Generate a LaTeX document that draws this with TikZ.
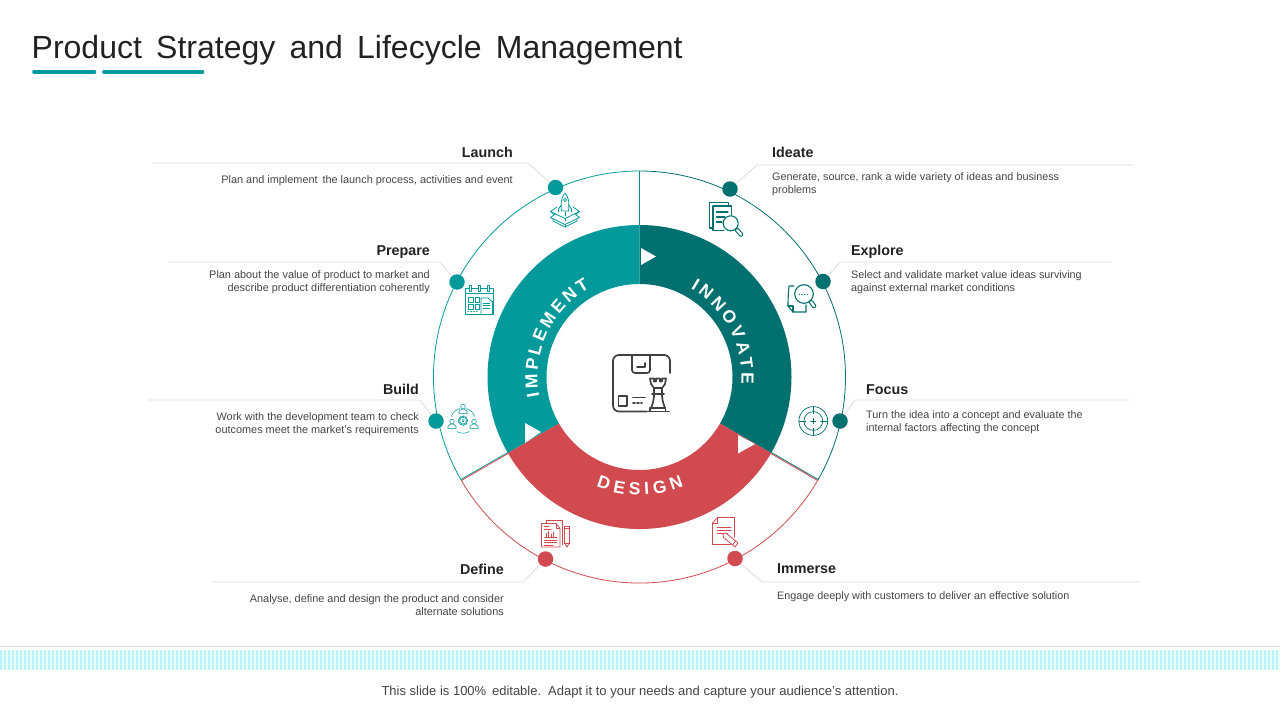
\documentclass[tikz,border=0pt]{standalone}
\usepackage{fontspec}
\setmainfont{Liberation Sans}
\usetikzlibrary{decorations.text}
\definecolor{teal1}{HTML}{049A9C}
\definecolor{teal2}{HTML}{02706F}
\definecolor{red1}{HTML}{D04A50}
\definecolor{leader}{HTML}{D9D9D9}
\definecolor{ink}{HTML}{222222}
\definecolor{body}{HTML}{444444}
\definecolor{icon}{HTML}{404040}
\definecolor{stripeA}{HTML}{B9F5F7}
\definecolor{stripeB}{HTML}{E8FCFC}
\newcommand{\ringfont}{\bfseries\fontsize{17.5}{17.5}\selectfont}
\tikzset{
  x=1pt,y=-1pt,
  dotnode/.style={circle,inner sep=0pt,minimum size=15.5pt,fill=#1},
  leaderline/.style={draw=leader,line width=0.7pt},
  headL/.style={font=\bfseries\fontsize{14.3}{15}\selectfont,text=ink,anchor=base east,inner sep=0pt},
  headR/.style={font=\bfseries\fontsize{14.3}{15}\selectfont,text=ink,anchor=base west,inner sep=0pt},
  descL/.style={font=\fontsize{10.9}{13}\selectfont,text=body,anchor=north east,align=right,inner sep=0pt},
  descR/.style={font=\fontsize{10.8}{13}\selectfont,text=body,anchor=north west,align=left,inner sep=0pt},
  ic/.style={line width=0.8pt,draw=#1,line join=round,line cap=round},
  tri/.style={fill=white,draw=none},
}
\begin{document}
\begin{tikzpicture}
\useasboundingbox (0,0) rectangle (1280,720);
% title
\node[font=\fontsize{32}{36}\selectfont,text=ink,anchor=base west,inner sep=0pt] (title) at (31.5,58.5) {Product\, Strategy\, and\, Lifecycle\, Management};
\draw[teal1,line width=3.6pt,line cap=round] (34,72) -- (94.5,72);
\draw[teal1,line width=3.6pt,line cap=round] (104,72) -- (202.5,72);
% footer band
\draw[leader,line width=1pt] (0,646.5) -- (1280,646.5);
\fill[stripeB] (0,650) rectangle (1280,670);
\foreach \k in {0,...,319} {\fill[stripeA] ({\k*4},650) rectangle ({\k*4+2.4},670);}
\node[font=\fontsize{13}{14}\selectfont,text=body,anchor=base,inner sep=0pt] (foot) at (640,695.5) {This slide is 100\%\, editable.\, Adapt it to your needs and capture your audience's attention.};
% ring
\begin{scope}[shift={(639.5,377)},y=1pt]
\fill[teal1] (90:152pt) arc[start angle=90,end angle=210,radius=152pt] -- (210:93pt) arc[start angle=210,end angle=90,radius=93pt] -- cycle;
\fill[teal2] (90:152pt) arc[start angle=90,end angle=-30,radius=152pt] -- (-30:93pt) arc[start angle=-30,end angle=90,radius=93pt] -- cycle;
\fill[red1] (210:152pt) arc[start angle=210,end angle=330,radius=152pt] -- (330:93pt) arc[start angle=330,end angle=210,radius=93pt] -- cycle;
\draw[teal1,line width=0.8pt] (90:206pt) arc[start angle=90,end angle=210,radius=206pt];
\draw[teal2,line width=0.8pt] (90:206pt) arc[start angle=90,end angle=-30,radius=206pt];
\draw[red1,line width=0.8pt] (210:206pt) arc[start angle=210,end angle=330,radius=206pt];
\draw[teal1!60!teal2,line width=0.9pt] (90:152pt) -- (90:206pt);
\draw[teal1,line width=0.8pt,transform canvas={shift={(0pt,0.6pt)}}] (210:152pt) -- (210:206pt);
\draw[red1,line width=0.8pt,transform canvas={shift={(0.3pt,-0.5pt)}}] (210:152pt) -- (210:206pt);
\draw[teal2,line width=0.8pt,transform canvas={shift={(0pt,0.6pt)}}] (330:152pt) -- (330:206pt);
\draw[red1,line width=0.8pt,transform canvas={shift={(-0.3pt,-0.5pt)}}] (330:152pt) -- (330:206pt);
% ring labels
\path[decorate,decoration={text along path,text={|\ringfont\color{white}|IMPLEMENT},text align={fit to path}}] (191:102pt) arc[start angle=191,end angle=119,radius=102pt];
\path[decorate,decoration={text along path,text={|\ringfont\color{white}|INNOVATE},text align={fit to path}}] (60:102pt) arc[start angle=60,end angle=-4,radius=102pt];
\path[decorate,decoration={text along path,text={|\ringfont\color{white}|DESIGN},text align={fit to path}}] (248.5:118pt) arc[start angle=248.5,end angle=292,radius=118pt];
\end{scope}
\fill[tri] (641,248) -- (656,256.5) -- (641,265) -- cycle;
\fill[tri] (525,423) -- (541,432) -- (525,443) -- cycle;
\fill[tri] (738,435) -- (755,444) -- (738,453.5) -- cycle;
% leaders
\coordinate (c1) at (528,163); \coordinate (e1) at (152,163);
\coordinate (c2) at (440,262); \coordinate (e2) at (168,262);
\coordinate (c3) at (420,400); \coordinate (e3) at (147,400);
\coordinate (c4) at (523,582); \coordinate (e4) at (212,582);
\coordinate (c5) at (757,165); \coordinate (e5) at (1134,165);
\coordinate (c6) at (840,262); \coordinate (e6) at (1112,262);
\coordinate (c7) at (855,400); \coordinate (e7) at (1129,400);
\coordinate (c8) at (762,582); \coordinate (e8) at (1139,582);
\node[dotnode=teal1] (d1) at (555.5,187.5) {};
\node[dotnode=teal1] (d2) at (457,282) {};
\node[dotnode=teal1] (d3) at (436,421) {};
\node[dotnode=red1] (d4) at (545.5,559) {};
\node[dotnode=teal2] (d5) at (730,189) {};
\node[dotnode=teal2] (d6) at (823,281.5) {};
\node[dotnode=teal2] (d7) at (840,421) {};
\node[dotnode=red1] (d8) at (735,558.5) {};
\foreach \i in {1,...,8} {\draw[leaderline] (d\i) -- (c\i) -- (e\i);}
% texts
\node[headL] (h1) at (513,157) {Launch};
\node[descL] (t1) at (513,175.5) {Plan and implement\, the launch process, activities and event};
\node[headL] (h2) at (430,255) {Prepare};
\node[descL] (t2) at (430,270.5) {Plan about the value of product to market and\\describe product differentiation coherently};
\node[headL] (h3) at (419,394) {Build};
\node[descL] (t3) at (419,412.5) {Work with the development team to check\\outcomes meet the market's requirements};
\node[headL] (h4) at (504,574) {Define};
\node[descL] (t4) at (504,594.5) {Analyse, define and design the product and consider\\alternate solutions};
\node[headR] (h5) at (772,157) {Ideate};
\node[descR] (t5) at (772,172.5) {Generate, source, rank a wide variety of ideas and business\\problems};
\node[headR] (h6) at (851,255) {Explore};
\node[descR] (t6) at (851,270.5) {Select and validate market value ideas surviving\\against external market conditions};
\node[headR] (h7) at (866,394) {Focus};
\node[descR] (t7) at (866,410.5) {Turn the idea into a concept and evaluate the\\internal factors affecting the concept};
\node[headR] (h8) at (777,573) {Immerse};
\node[descR] (t8) at (777,591.5) {Engage deeply with customers to deliver an effective solution};
% icon rocket
\begin{scope}[ic=teal1]
\draw (565,193) .. controls (561,197) and (560.5,204) .. (561.5,211) -- (568.5,211) .. controls (569.5,204) and (569,197) .. (565,193) -- cycle;
\draw (565,200) circle (1.6);
\draw (561.5,205) -- (558.5,209) -- (558.5,212); \draw (568.5,205) -- (571.5,209) -- (571.5,212);
\draw (565,212) -- (565,216);
\draw (557,207) -- (550.5,211.5) -- (565,218.5) -- (579.5,211.5) -- (573,207);
\draw (550.5,211.5) -- (554.5,214.5) -- (550.5,217.5) -- (565,224.5) -- (579.5,217.5) -- (575.5,214.5) -- (579.5,211.5);
\draw (553,219) -- (553,221) -- (565,227) -- (577,221) -- (577,219);
\draw (565,218.5) -- (565,221); \draw (565,224.5) -- (565,227);
\end{scope}
% icon calendar
\begin{scope}[ic=teal1]
\draw (465.5,314) -- (465.5,288) -- (493,288) -- (493,314) -- cycle;
\draw (465.5,293.5) -- (493,293.5);
\foreach \x in {470,479,488} {\draw[fill=white] (\x-1,285.5) rectangle (\x+1,291);}
\draw (468,297.5) rectangle (473,302); \draw (475,297.5) rectangle (479.5,302);
\draw (468,304.5) rectangle (473,309); \draw (475,304.5) rectangle (479.5,309);
\draw (481,314) -- (481,298) -- (488,298) -- (492.5,302) -- (492.5,314);
\draw (483,303) -- (490,303); \draw (483,305.5) -- (490,305.5); \draw (483,308) -- (490,308);
\draw[dotted] (468,311.5) -- (479,311.5);
\end{scope}
% icon build
\begin{scope}[shift={(463,420.7)},y=1pt,ic=teal1,line width=0.55pt]
\draw (0,0) circle (3.4pt); \draw (0,0) circle (1.3pt);
\draw[dash pattern=on 1.8pt off 1.2pt,line width=1pt] (0,0) circle (4.6pt);
\draw (75:12.5pt) arc[start angle=75,end angle=20,radius=12.5pt];
\draw (105:12.5pt) arc[start angle=105,end angle=160,radius=12.5pt];
\draw (-60:12.5pt) arc[start angle=-60,end angle=-120,radius=12.5pt];
\foreach \x/\y in {0/11.5,-11/-3.5,11/-3.5} {
  \draw (\x,\y+2.6) circle (2.3pt);
  \draw (\x-4,\y-4.5) -- (\x-4,\y-2) -- (\x-1.5,\y) -- (\x+1.5,\y) -- (\x+4,\y-2) -- (\x+4,\y-4.5) -- cycle;
}
\end{scope}
% icon define
\begin{scope}[ic=red1]
\draw (546,520) -- (562.5,520) -- (562.5,545);
\draw (546,520) -- (546,523);
\draw (541.5,523.5) -- (556,523.5) -- (560,528) -- (560,547) -- (541.5,547) -- cycle;
\draw (556,523.5) -- (556,528) -- (560,528);
\draw (544,526.5) -- (549,526.5); \draw (544,529) -- (551,529);
\draw (544.5,537.5) -- (557,537.5);
\draw (546,537) -- (546,533); \draw (548.5,537) -- (548.5,531); \draw (551,537) -- (551,534); \draw (553.5,537) -- (553.5,532);
\draw (544.5,540) -- (557,540); \draw (544.5,542.5) -- (557,542.5); \draw (544.5,545) -- (553,545);
\draw (564.5,528) rectangle (569.5,543); \draw (564.5,543) -- (567,547) -- (569.5,543);
\draw (564.5,528) -- (564.5,526) -- (569.5,526) -- (569.5,528);
\end{scope}
% icon immerse
\begin{scope}[ic=red1]
\draw (712.5,544) -- (712.5,523) -- (717.5,517.5) -- (734.5,517.5) -- (734.5,537);
\draw (712.5,523) -- (717.5,523) -- (717.5,517.5);
\draw (712.5,544) -- (731,544);
\draw (717,527) -- (731,527); \draw (717,530) -- (731,530); \draw (717,533) -- (728,533);
\draw[fill=white] (723,534) -- (726,533) -- (738,543) -- (735,547) -- (723.5,537.5) -- cycle;
\draw (735.5,541) -- (733,544.5);
\end{scope}
% icon ideate
\begin{scope}[ic=teal2,line width=1.1pt]
\draw (709.5,228) -- (709.5,202.5) -- (728.5,202.5) -- (728.5,205);
\draw (709.5,228) -- (713,228);
\draw (713,206) -- (731.5,206) -- (731.5,215);
\draw (713,206) -- (713,230.5) -- (724,230.5);
\draw (716.5,212) -- (728,212); \draw (716.5,217) -- (725,217); \draw (716.5,222) -- (722,222);
\draw[fill=white] (730.7,223.3) circle (7.5);
\draw[line width=4.6pt] (737,230) -- (741,234.5);
\draw[draw=white,line width=2.4pt] (737.2,230.2) -- (741,234.5);
\end{scope}
% icon explore
\begin{scope}[ic=teal2,line width=1.1pt]
\draw (794,286) -- (789,286) .. controls (788,296) and (788,303) .. (788,306);
\draw (788,306) -- (793,312) -- (806,312) -- (806,305);
\draw (788,306) -- (793,306) -- (793,312);
\draw[fill=white] (804,294) circle (9.3);
\draw[dotted,line width=0.7pt] (799,294) -- (809,294);
\draw[line width=4.6pt] (811,302) -- (814,306);
\draw[draw=white,line width=2.4pt] (811.2,302.2) -- (814,306);
\end{scope}
% icon focus
\begin{scope}[ic=teal2,line width=0.7pt]
\draw (813.3,421) circle (14.4);
\draw (813.3,421) circle (9.4);
\draw (798.9,421) -- (806,421); \draw (820.6,421) -- (827.7,421);
\draw (813.3,406.6) -- (813.3,413.7); \draw (813.3,428.3) -- (813.3,435.4);
\draw (810.8,421) -- (815.8,421); \draw (813.3,418.5) -- (813.3,423.5);
\end{scope}
% centre icon
\begin{scope}[ic=icon,line width=1.7pt]
\draw[rounded corners=6pt] (646.5,411.5) -- (613,411.5) -- (613,355) -- (670,355) -- (670,373);
\draw[rounded corners=3pt] (632,355) -- (632,373) -- (650,373) -- (650,355);
\draw (637,367) -- (645,367) -- (645,363);
\draw (618.5,396) rectangle (627,406);
\draw (633,397.5) -- (645,397.5);
\draw[dash pattern=on 2pt off 2pt] (633,403) -- (642,403);
\draw (647,411.5) -- (669,411.5);
\draw (650,411.5) -- (650,408) -- (665.5,408) -- (665.5,411.5);
\draw (651,408) .. controls (653.5,402) and (654,398) .. (654,394) -- (662,394) .. controls (662,398) and (662.5,402) .. (665,408);
\draw (652,394) -- (664,394);
\draw (654,394) -- (654,388) -- (651,384) -- (650,378.5) -- (654,378.5) -- (654,381.5) -- (656,381.5) -- (656,378.5) -- (660,378.5) -- (660,381.5) -- (662,381.5) -- (662,378.5) -- (666,378.5) -- (665,384) -- (662,388) -- (662,394);
\draw (654,388) -- (662,388);
\end{scope}
\end{tikzpicture}
\end{document}
